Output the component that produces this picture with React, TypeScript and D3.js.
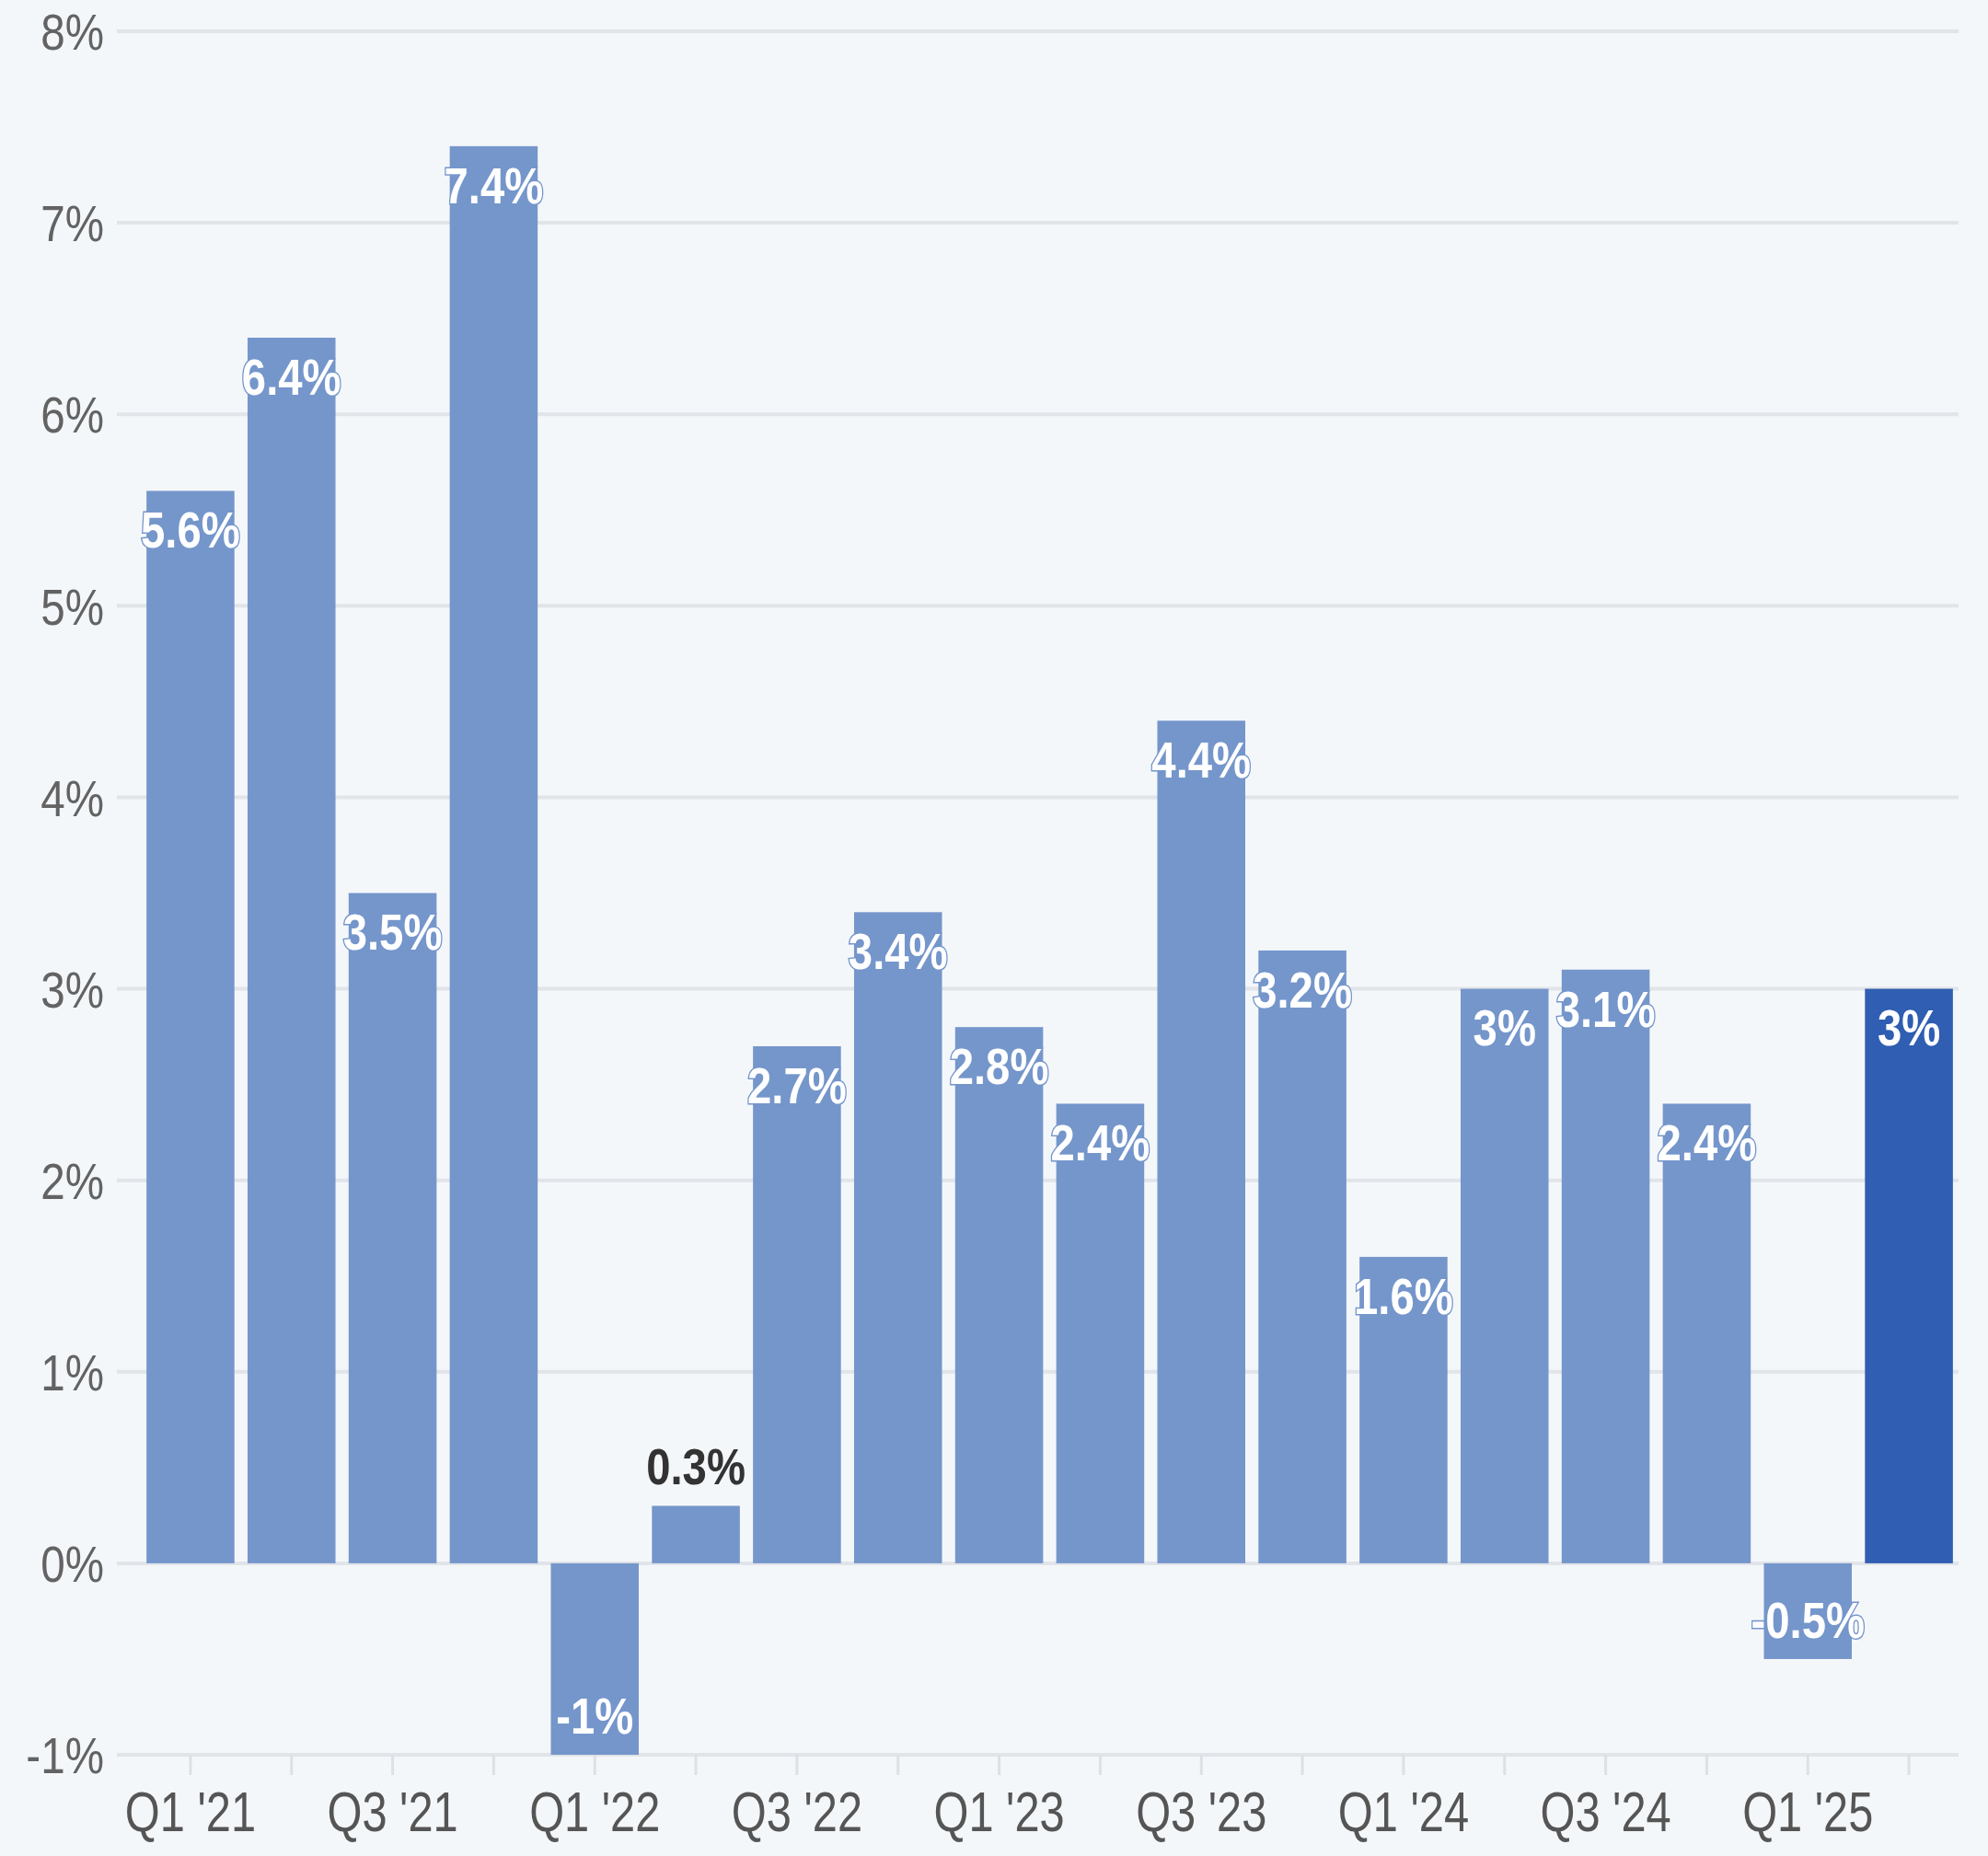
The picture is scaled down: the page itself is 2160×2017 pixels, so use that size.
import { useEffect } from 'react';
import * as d3 from 'd3';

// Quarterly growth
const quarters = [
  "Q1 '21", "Q2 '21", "Q3 '21", "Q4 '21",
  "Q1 '22", "Q2 '22", "Q3 '22", "Q4 '22",
  "Q1 '23", "Q2 '23", "Q3 '23", "Q4 '23",
  "Q1 '24", "Q2 '24", "Q3 '24", "Q4 '24",
  "Q1 '25", "Q2 '25",
];
const growth = [5.6, 6.4, 3.5, 7.4, -1, 0.3, 2.7, 3.4, 2.8, 2.4, 4.4, 3.2, 1.6, 3, 3.1, 2.4, -0.5, 3];
const yTicks = [-1, 0, 1, 2, 3, 4, 5, 6, 7, 8];
const labelledQuarters = quarters.filter((_, i) => i % 2 === 0);

const WIDTH = 2160;
const HEIGHT = 2017;
const FONT = '"Liberation Sans", Arial, sans-serif';

export default function App(): JSX.Element {
  useEffect(() => {
    document.body.style.margin = '0';
    document.body.style.background = '#f4f7fa';
  }, []);

  const x = d3.scaleBand<string>()
    .domain(quarters)
    .range([152, 2129])
    .paddingInner(0.13)
    .paddingOuter(0.065);

  const y = d3.scaleLinear()
    .domain([-1, 8])
    .range([1907, 34]);

  const gridLeft = 127;
  const gridRight = 2128;

  return (
    <svg width={WIDTH} height={HEIGHT} style={{ display: 'block', background: '#f4f7fa' }}>
      {/* gridlines + y labels */}
      {yTicks.map(t => (
        <g key={t} transform={`translate(0,${y(t)})`}>
          <line x1={gridLeft} x2={gridRight} stroke="#e1e4e8" strokeWidth={4} />
          <g transform="translate(113,0) scale(0.85,1)">
            <text
              dy="0.36em"
              textAnchor="end"
              fontFamily={FONT}
              fontSize={56}
              fill="#636363"
            >
              {t}%
            </text>
          </g>
        </g>
      ))}

      {/* x ticks */}
      {quarters.map(q => (
        <line
          key={q}
          x1={x(q)! + x.bandwidth() / 2}
          x2={x(q)! + x.bandwidth() / 2}
          y1={y(-1)}
          y2={y(-1) + 22}
          stroke="#dde0e4"
          strokeWidth={3}
        />
      ))}
      {labelledQuarters.map(q => (
        <g key={q} transform={`translate(${x(q)! + x.bandwidth() / 2},1990) scale(0.8,1)`}>
          <text
            textAnchor="middle"
            fontFamily={FONT}
            fontSize={61}
            fill="#555"
          >
            {q}
          </text>
        </g>
      ))}

      {/* bars */}
      {growth.map((v, i) => {
        const q = quarters[i];
        const last = i === growth.length - 1;
        const top = y(Math.max(v, 0));
        const bottom = y(Math.min(v, 0));
        return (
          <rect
            key={q}
            x={x(q)}
            y={top}
            width={x.bandwidth()}
            height={bottom - top}
            fill={last ? '#2f5eb2' : '#7596cb'}
          />
        );
      })}

      {/* value labels */}
      {growth.map((v, i) => {
        const q = quarters[i];
        const last = i === growth.length - 1;
        const cx = x(q)! + x.bandwidth() / 2;
        const barH = Math.abs(y(v) - y(0));
        const inside = barH > 90;
        let cy: number;
        if (v >= 0) cy = inside ? y(v) + 42 : y(v) - 43;
        else cy = y(v) - 43;
        const barColour = last ? '#2f5eb2' : '#7596cb';
        return (
          <g key={q} transform={`translate(${cx},${cy}) scale(0.86,1)`}>
            <text
              dy="0.36em"
              textAnchor="middle"
              fontFamily={FONT}
              fontSize={55}
              fontWeight="bold"
              fill={inside ? '#fff' : '#333'}
              stroke={inside ? barColour : 'none'}
              strokeWidth={3}
              paintOrder="stroke"
            >
              {v}%
            </text>
          </g>
        );
      })}
    </svg>
  );
}
